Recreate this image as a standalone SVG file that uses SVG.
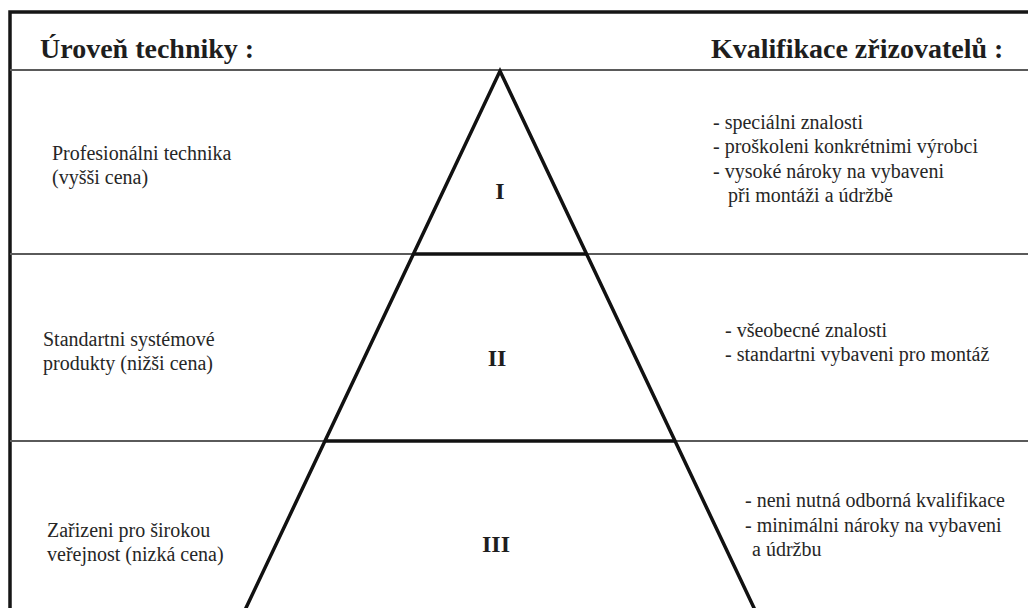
<svg xmlns="http://www.w3.org/2000/svg" width="1028" height="608" viewBox="0 0 1028 608">
  <style>
    text { font-family: 'Liberation Serif', 'DejaVu Serif', serif; }
    .txt { font-size: 20px; fill: #262626; }
    .hdr { font-size: 28px; font-weight: bold; fill: #1e1e1e; }
    .num { font-size: 24px; font-weight: bold; fill: #1e1e1e; text-anchor: middle; }
    .frame { stroke: #161616; stroke-width: 3.5; fill: none; }
    .sep { stroke: #5a5a5a; stroke-width: 2; fill: none; }
    .pyr { stroke: #111; stroke-width: 3.5; fill: none; stroke-linejoin: miter; }
  </style>
  <rect x="0" y="0" width="1028" height="608" fill="#ffffff"/>
  <g id="connectors">
    <path class="frame" d="M10,610 L10,12 L1030,12"/>
    <line class="sep" x1="10" y1="70" x2="1028" y2="70"/>
    <line class="sep" x1="10" y1="254" x2="1028" y2="254"/>
    <line class="sep" x1="10" y1="441" x2="1028" y2="441"/>
    <path class="pyr" d="M245,610 L500,71 L755,610"/>
    <line class="pyr" x1="413" y1="254" x2="587" y2="254"/>
    <line class="pyr" x1="324" y1="441" x2="676" y2="441"/>
  </g>
  <g id="header-left">
    <text class="hdr" x="40" y="58">Úroveň techniky :</text>
  </g>
  <g id="header-right">
    <text class="hdr" x="711" y="58">Kvalifikace zřizovatelů :</text>
  </g>
  <g id="tier-1">
    <text class="txt" x="52" y="160">Profesionálni technika</text>
    <text class="txt" x="52" y="184">(vyšši cena)</text>
    <text class="num" x="500" y="199">I</text>
    <text class="txt" x="713" y="129">- speciálni znalosti</text>
    <text class="txt" x="713" y="153">- proškoleni konkrétnimi výrobci</text>
    <text class="txt" x="713" y="178">- vysoké nároky na vybaveni</text>
    <text class="txt" x="728" y="202">při montáži a údržbě</text>
  </g>
  <g id="tier-2">
    <text class="txt" x="43" y="346">Standartni systémové</text>
    <text class="txt" x="43" y="370">produkty (nižši cena)</text>
    <text class="num" x="497" y="366">II</text>
    <text class="txt" x="725" y="337">- všeobecné znalosti</text>
    <text class="txt" x="725" y="361">- standartni vybaveni pro montáž</text>
  </g>
  <g id="tier-3">
    <text class="txt" x="47" y="537">Zařizeni pro širokou</text>
    <text class="txt" x="47" y="561">veřejnost (nizká cena)</text>
    <text class="num" x="496" y="552">III</text>
    <text class="txt" x="745" y="507">- neni nutná odborná kvalifikace</text>
    <text class="txt" x="745" y="532">- minimálni nároky na vybaveni</text>
    <text class="txt" x="752" y="556">a údržbu</text>
  </g>
</svg>
